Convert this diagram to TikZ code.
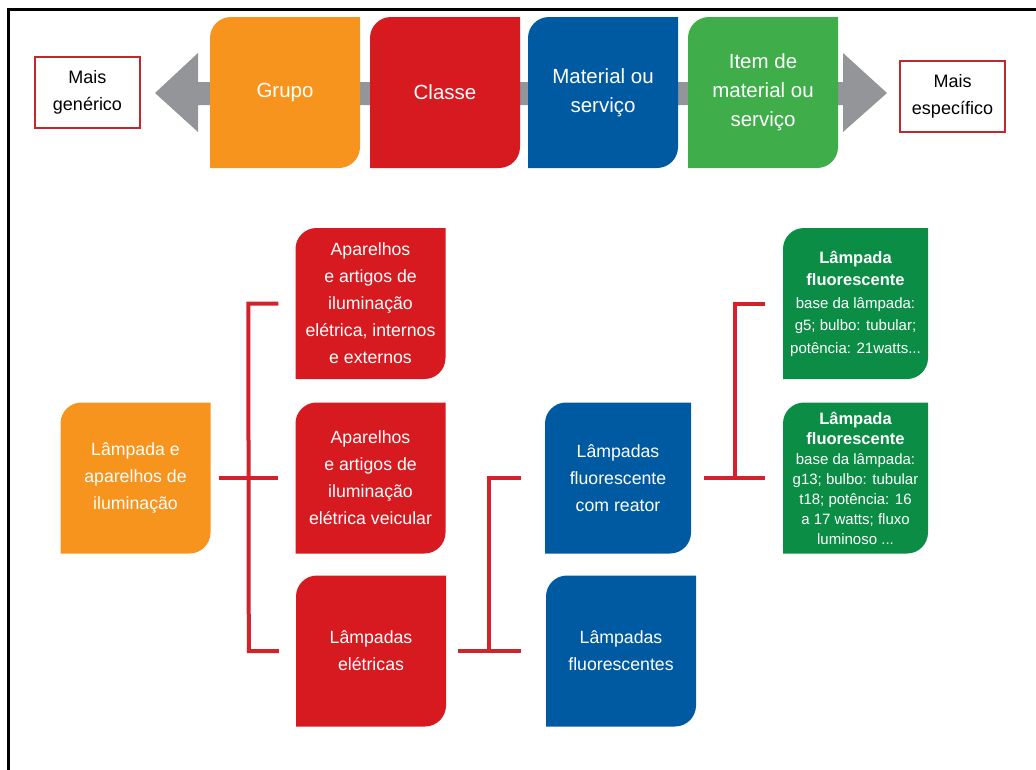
\documentclass[tikz,border=0pt]{standalone}
\usepackage{fontspec}
\setmainfont{Liberation Sans}
\usepackage{tikz}
\usepackage{xcolor}

\definecolor{orangeC}{HTML}{F7941E}
\definecolor{redC}{HTML}{D71920}
\definecolor{blueC}{HTML}{005AA2}
\definecolor{greenC}{HTML}{3EAD4A}
\definecolor{greenD}{HTML}{0B8D45}
\definecolor{arrowC}{HTML}{939598}
\definecolor{linkC}{HTML}{D2232A}
\definecolor{frameC}{HTML}{C1272D}

\tikzset{
  leaf/.style={rectangle, inner sep=0pt, minimum width=150pt, minimum height=151pt,
    text=white, align=center,
    path picture={
      \fill[#1] (path picture bounding box.south west)
        -- ([yshift=-21pt]path picture bounding box.north west)
        arc[start angle=180, end angle=90, radius=21pt]
        -- (path picture bounding box.north east)
        -- ([yshift=21pt]path picture bounding box.south east)
        arc[start angle=0, end angle=-90, radius=21pt]
        -- cycle;}},
  topbox/.style={leaf=#1, font=\fontsize{20.5}{29}\selectfont},
  treebox/.style={leaf=#1, font=\fontsize{17.7}{27}\selectfont},
  itembox/.style={leaf=greenD, minimum width=145pt},
  endbox/.style={draw=frameC, line width=2.5pt, inner sep=0pt, minimum width=105pt,
    minimum height=71pt, align=center, font=\fontsize{18}{27}\selectfont},
  link/.style={draw=linkC, line width=4pt}
}

\begin{document}
\begin{tikzpicture}[x=1pt, y=-1pt]
  \useasboundingbox (0,0) rectangle (1036,769);
  \draw[line width=2.5pt] (8.7,790) -- (8.7,9.5) -- (1060,9.5);

  \fill[arrowC] (155,93) -- (198,53) -- (198,82) -- (843,82) -- (843,53) -- (887,93)
    -- (843,132) -- (843,105) -- (198,105) -- (198,132) -- cycle;
  \node (grupo) [topbox=orangeC] at (285,92.5) {Grupo};
  \node (classe) [topbox=redC] at (445,92.5) {Classe};
  \node (material) [topbox=blueC] at (603,92.5) {Material ou\\serviço};
  \node (item) [topbox=greenC] at (763,92.5) {Item de\\material ou\\serviço};
  \node (generico) [endbox] at (87.5,92.5) {Mais\\genérico};
  \node (especifico) [endbox] at (952.5,96.5) {Mais\\específico};

  \node (lampApar) [treebox=orangeC] at (135.5,478) {Lâmpada e\\aparelhos de\\iluminação};
  \node (aparInt) [treebox=redC] at (370.5,303.5) {Aparelhos\\e artigos de\\iluminação\\elétrica, internos\\e externos};
  \node (aparVei) [treebox=redC] at (370.5,478) {Aparelhos\\e artigos de\\iluminação\\elétrica veicular};
  \node (lampEl) [treebox=redC] at (371,651) {Lâmpadas\\elétricas};
  \node (fluReat) [treebox=blueC, minimum width=146pt] at (618,478) {Lâmpadas\\fluorescente\\com reator};
  \node (lampFl) [treebox=blueC] at (621,651) {Lâmpadas\\fluorescentes};
  \node (itemA) [itembox, font=\fontsize{15}{22.5}\selectfont] at (855.5,303.5)
    {{\bfseries\fontsize{16.5}{22.5}\selectfont Lâmpada}\\{\bfseries\fontsize{16.5}{22.5}\selectfont fluorescente}\\base da lâmpada:\\g5; bulbo: tubular;\\potência: 21watts...};
  \node (itemB) [itembox, font=\fontsize{15}{20}\selectfont] at (855.5,478)
    {{\bfseries\fontsize{16.5}{20}\selectfont Lâmpada}\\{\bfseries\fontsize{16.5}{20}\selectfont fluorescente}\\base da lâmpada:\\g13; bulbo: tubular\\t18; potência: 16\\a 17 watts; fluxo\\luminoso ...};

  \draw[link] ([xshift=8]lampApar.east) -- ([xshift=-17]aparVei.west);
  \draw[link] ([xshift=-17]aparInt.west) -- ([xshift=-47]aparInt.west)
    -- ([xshift=-47]lampEl.west) -- ([xshift=-17]lampEl.west);
  \draw[link] ([xshift=12]lampEl.east) -- ([xshift=-25]lampFl.west);
  \draw[link] ([xshift=-24]fluReat.west) -- ([xshift=-56]fluReat.west)
    -- ([xshift=-56]fluReat.west |- lampFl.west);
  \draw[link] ([xshift=13]fluReat.east) -- ([xshift=-18]itemB.west);
  \draw[link] ([xshift=-18]itemA.west) -- ([xshift=-48]itemA.west)
    -- ([xshift=-48]itemA.west |- itemB.west);
\end{tikzpicture}
\end{document}
